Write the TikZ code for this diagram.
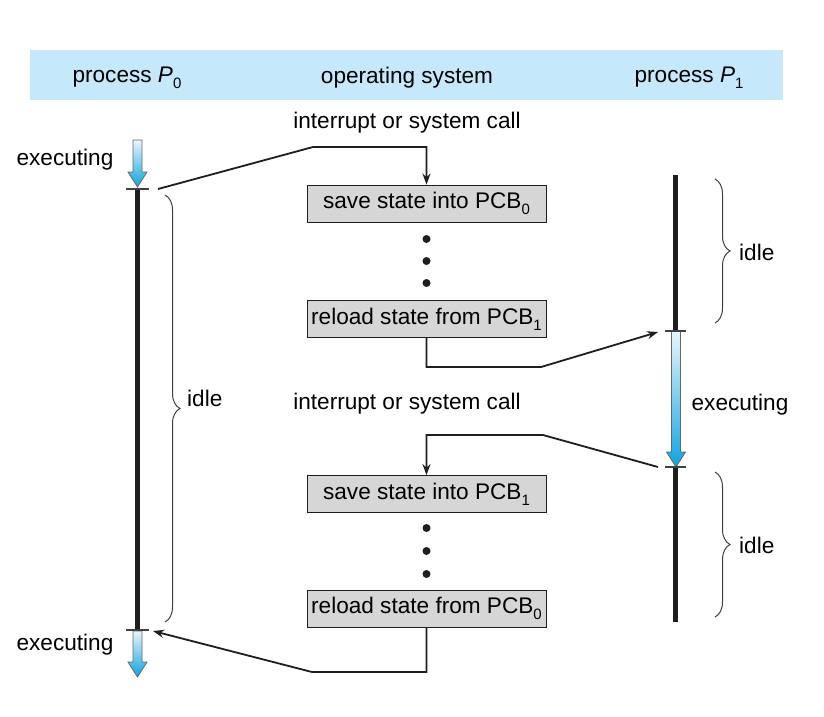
\documentclass[tikz,border=0pt]{standalone}
\usepackage{fontspec}
\setmainfont{Liberation Sans}
\usetikzlibrary{decorations.pathreplacing,arrows.meta}
\definecolor{hdr}{RGB}{197,232,250}
\definecolor{boxg}{RGB}{214,214,214}
\definecolor{ink}{RGB}{30,30,30}
\definecolor{arrlight}{RGB}{232,245,252}
\definecolor{arrdark}{RGB}{10,165,225}
\definecolor{arrline}{RGB}{105,105,105}
\newcommand\sbs[1]{\raisebox{-0.28em}{\fontsize{15}{15}\selectfont #1}}
\newcommand\bluearr[4]{%
  \shadedraw[top color=arrlight, bottom color=arrdark, draw=arrline, line width=0.8pt, line join=miter]
    ({#1-4.5},#2) -- ({#1+4.5},#2) -- ({#1+4.5},#3) -- ({#1+9.5},#3) -- (#1,#4)
    -- ({#1-9.5},#3) -- ({#1-4.5},#3) -- cycle;}
\begin{document}
\begin{tikzpicture}[x=1pt,y=-1pt,
  lbl/.style={font=\fontsize{22.6}{27}\selectfont, inner sep=0pt},
  osbox/.style={draw=ink, line width=0.9pt, fill=boxg, minimum width=239pt, minimum height=37pt, inner sep=0pt, font=\fontsize{22.6}{27}\selectfont},
  conn/.style={draw=ink, line width=1.8pt},
  tipx/.style={-{Stealth[length=11pt,width=8pt]}},
  bar/.style={draw=ink, line width=5pt},
  tickm/.style={draw=ink!85, line width=1.3pt},
  brc/.style={draw=ink!85, line width=1pt, decorate, decoration={brace, amplitude=15pt, aspect=0.5}},
  dotn/.style={circle, fill=ink, inner sep=0pt, minimum size=8pt}]
\useasboundingbox (0,0) rectangle (824,716);
\fill[white] (0,0) rectangle (824,716);
% header
\fill[hdr] (30,50) rectangle (783,100);
\node[lbl] (h0) at (127,78) {process \textit{P}\sbs{0}};
\node[lbl] (hos) at (407,78) {operating system};
\node[lbl] (h1) at (689,78) {process \textit{P}\sbs{1}};
% OS boxes
\node[osbox] (b1) at (426.5,203.5) {save state into PCB\sbs{0}};
\node[osbox] (b2) at (426.5,319) {reload state from PCB\sbs{1}};
\node[osbox] (b3) at (426.5,494) {save state into PCB\sbs{1}};
\node[osbox] (b4) at (426.5,608.5) {reload state from PCB\sbs{0}};
\node[dotn] (d1) at (426.5,239) {};
\node[dotn] (d2) at (426.5,261) {};
\node[dotn] (d3) at (426.5,283) {};
\node[dotn] (d4) at (426.5,528) {};
\node[dotn] (d5) at (426.5,551) {};
\node[dotn] (d6) at (426.5,574) {};
\node[lbl] (irq1) at (407,123) {interrupt or system call};
\node[lbl] (irq2) at (407,404) {interrupt or system call};
% process P0 timeline
\bluearr{137.5}{140}{172}{187}
\bluearr{137.5}{631}{662}{677}
\draw[bar] (137.5,189) -- (137.5,630);
\draw[tickm] (126,189) -- (149,189);
\draw[tickm] (126,630) -- (149,630);
\node[lbl] (ex0a) at (65,160) {executing};
\node[lbl] (ex0b) at (65,645) {executing};
\draw[brc] (165,195) -- (165,622);
\node[lbl, anchor=west] (id0) at (187,398) {idle};
% process P1 timeline
\draw[bar] (675.5,175) -- (675.5,331);
\draw[bar] (675.5,467) -- (675.5,622);
\bluearr{676}{331}{452}{467}
\draw[tickm] (665,331) -- (686,331);
\draw[tickm] (665,467) -- (686,467);
\node[lbl] (ex1) at (740,405) {executing};
\draw[brc] (715,179) -- (715,323);
\node[lbl, anchor=west] (id1a) at (739,252) {idle};
\draw[brc] (715,472) -- (715,617);
\node[lbl, anchor=west] (id1b) at (739,545) {idle};
% connectors
\coordinate (s1) at (158,189);
\coordinate (k1) at (313,147);
\coordinate (e2) at (658,332);
\coordinate (k2) at (541,367);
\coordinate (s3) at (658,467);
\coordinate (k3) at (543,435);
\coordinate (k4) at (312,672);
\coordinate (e4) at (153,631);
\draw[conn, tipx] (s1) -- (k1) -| (b1.north);
\draw[conn, tipx] (b2.south) |- (k2) -- (e2);
\draw[conn, tipx] (s3) -- (k3) -| (b3.north);
\draw[conn, tipx] (b4.south) |- (k4) -- (e4);
\end{tikzpicture}
\end{document}
